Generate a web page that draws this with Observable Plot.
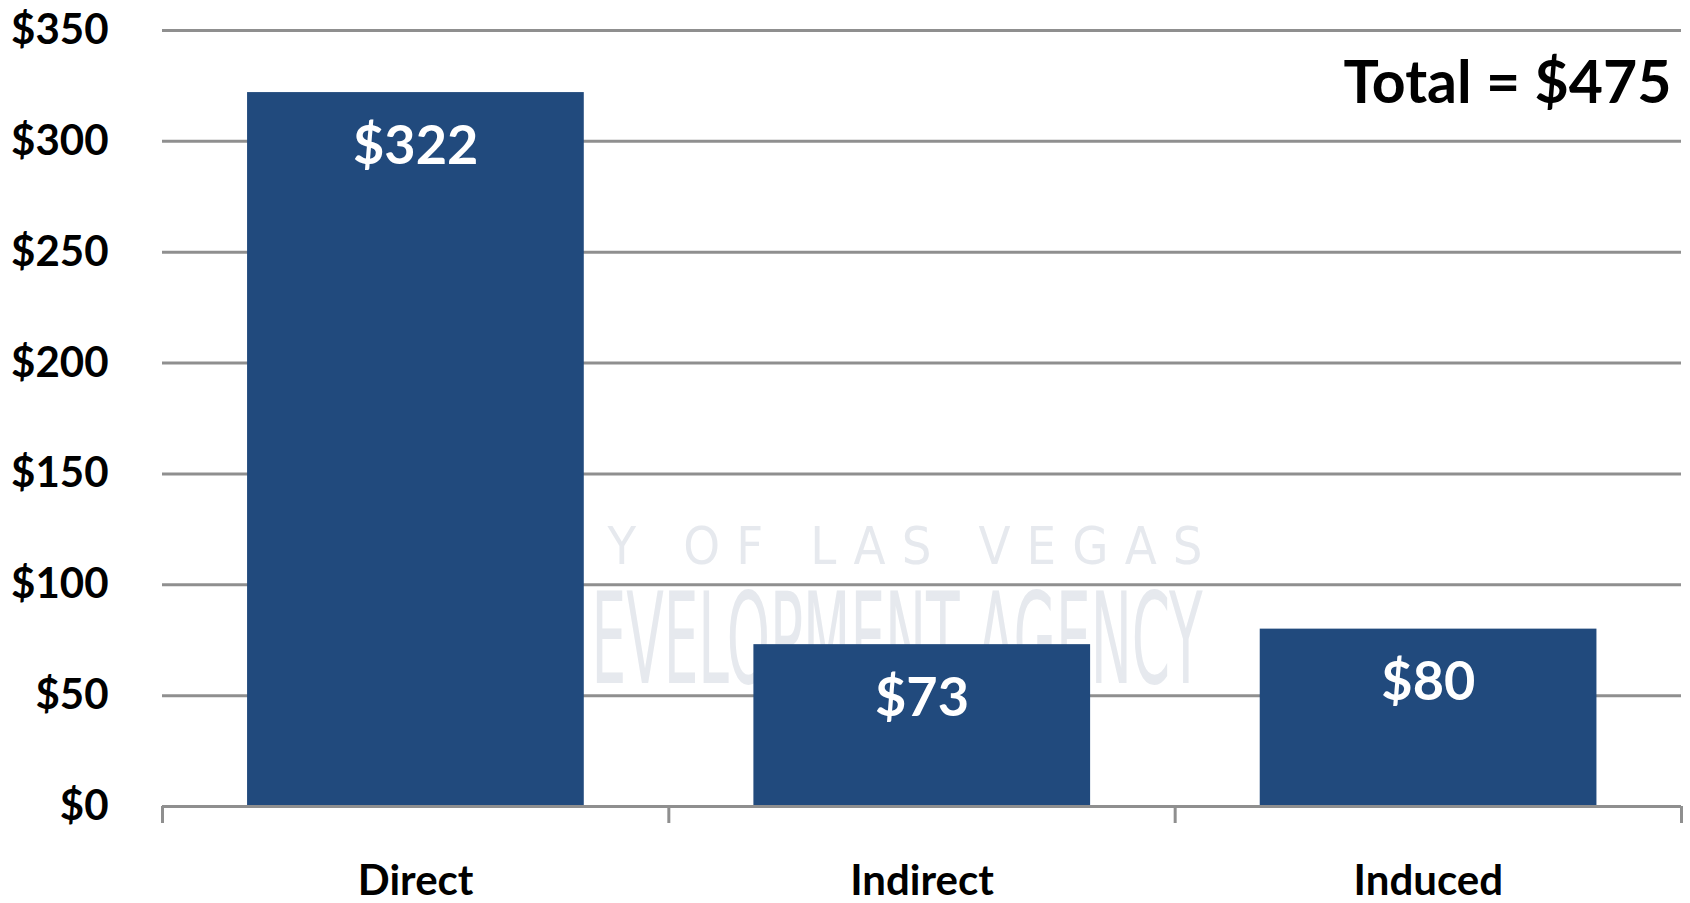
<!DOCTYPE html>
<html>
<head>
<meta charset="utf-8">
<script src="https://cdn.jsdelivr.net/npm/d3@7"></script>
<script src="https://cdn.jsdelivr.net/npm/@observablehq/plot@0.6"></script>
<style>
  html, body { margin: 0; padding: 0; background: #ffffff; }
  #chart svg { display: block; }
</style>
</head>
<body>
<div id="chart"></div>
<script>
// ---- Data ----
const categories = ["Direct", "Indirect", "Induced"];
const values = [322, 73, 80];
const yTicks = [0, 50, 100, 150, 200, 250, 300, 350];
const totalLabel = "Total = $475";
const watermarkLines = ["Y OF LAS VEGAS", "EVELOPMENT AGENCY"];

const data = categories.map((c, i) => ({ category: c, value: values[i], i }));
const barColor = "#214a7d";
const gridColor = "#8f8f8f";
const fontFamily = "Lato, 'Open Sans', sans-serif";

const chart = Plot.plot({
  width: 1690,
  height: 903,
  marginLeft: 162,
  marginRight: 9,
  marginTop: 30,
  marginBottom: 97,
  style: { fontFamily, fontWeight: "bold", background: "#ffffff", color: "#000000" },
  x: { domain: [0, categories.length], axis: null },
  y: { domain: [0, 350], axis: null },
  marks: [
    // faint watermark text
    Plot.text([watermarkLines[0]], {
      frameAnchor: "top-left", dx: 445, dy: 517, lineAnchor: "middle", text: d => d, textAnchor: "start",
      fill: "#e6e9ee", fontSize: 52, fontWeight: "normal", fontFamily: "'DejaVu Sans Condensed', sans-serif"
    }),
    Plot.text([watermarkLines[1]], {
      frameAnchor: "top-left", dx: 429, dy: 612, lineAnchor: "middle", text: d => d, textAnchor: "start",
      fill: "#e6e9ee", fontSize: 126, fontWeight: "normal", fontFamily: "'DejaVu Sans Condensed', sans-serif"
    }),
    Plot.ruleY(yTicks.filter(d => d > 0), { stroke: gridColor, strokeWidth: 3 }),
    Plot.rectY(data, {
      x1: d => d.i + 0.168, x2: d => d.i + 0.833, y1: 0, y2: "value", fill: barColor
    }),
    Plot.ruleY([0], { stroke: gridColor, strokeWidth: 3 }),
    Plot.axisY({
      ticks: yTicks, tickSize: 0, tickPadding: 54, tickFormat: d => "$" + d, label: null,
      fontSize: 42, fontWeight: "bold", fill: "#000000"
    }),
    Plot.axisX({
      ticks: d3.range(categories.length + 1), tickSize: 17, tickFormat: () => "", label: null,
      stroke: gridColor, strokeWidth: 3
    }),
    Plot.text(data, {
      x: d => d.i + 0.5, y: 0, text: d => d.category, dy: 75,
      fontSize: 42, fontWeight: "bold", fill: "#000000"
    }),
    Plot.text(data, {
      x: d => d.i + 0.5, y: "value", text: d => "$" + d.value, dy: 54,
      fontSize: 54, fontWeight: "bold", fill: "#ffffff"
    }),
    Plot.text([totalLabel], {
      frameAnchor: "top-right", lineAnchor: "middle", text: d => d, dx: -10, dy: 54, textAnchor: "end",
      fontSize: 59, fontWeight: "bold", fill: "#000000"
    })
  ]
});

// stretch watermark text to its width
d3.select(chart).selectAll("text").each(function () {
  const t = this.textContent;
  if (t === watermarkLines[0]) d3.select(this).attr("textLength", 595).attr("lengthAdjust", "spacing");
  if (t === watermarkLines[1]) d3.select(this).attr("textLength", 611).attr("lengthAdjust", "spacingAndGlyphs");
});

document.getElementById("chart").appendChild(chart);
</script>
</body>
</html>
